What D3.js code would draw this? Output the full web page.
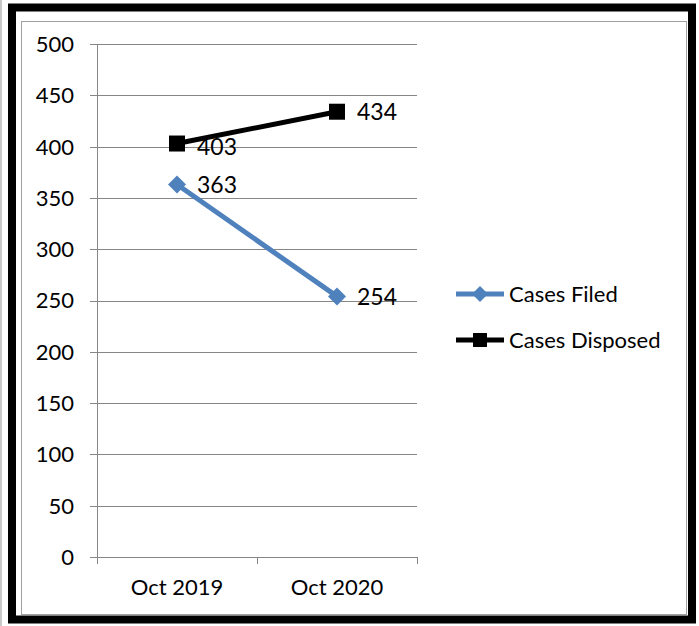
<!DOCTYPE html>
<html><head><meta charset="utf-8">
<script src="https://cdn.jsdelivr.net/npm/d3@7"></script>
<style>body{margin:0;background:#fff}svg{display:block}</style>
</head><body>
<script>
const categories = ["Oct 2019", "Oct 2020"];
const casesFiled = [363, 254];
const casesDisposed = [403, 434];
const yTicks = [0, 50, 100, 150, 200, 250, 300, 350, 400, 450, 500];
const seriesNames = ["Cases Filed", "Cases Disposed"];

const W = 699, H = 626;
const font = "Lato, 'Open Sans', sans-serif";
const svg = d3.select("body").append("svg").attr("width", W).attr("height", H);

// frames
svg.append("line").attr("x1", 1).attr("x2", 1).attr("y1", 0).attr("y2", H).attr("stroke", "#c8c8c8").attr("stroke-width", 2);
svg.append("rect").attr("x", 12).attr("y", 7.5).attr("width", 680).attr("height", 612)
  .attr("fill", "none").attr("stroke", "#000").attr("stroke-width", 8);
svg.append("rect").attr("x", 21.5).attr("y", 21.5).attr("width", 665).attr("height", 593)
  .attr("fill", "none").attr("stroke", "#a0a0a0").attr("stroke-width", 1);

const x0 = 97, x1 = 417, yTop = 44, yBot = 557;
const x = d3.scaleBand().domain(categories).range([x0, x1]);
const y = d3.scaleLinear().domain([0, 500]).range([yBot, yTop]);

const g = svg.append("g");
g.selectAll("line.grid").data(yTicks).join("line")
  .attr("x1", x0 - 7).attr("x2", x1)
  .attr("y1", d => Math.round(y(d)) + 0.5).attr("y2", d => Math.round(y(d)) + 0.5)
  .attr("stroke", "#868686").attr("stroke-width", 1);
g.append("line").attr("x1", x0 + 0.5).attr("x2", x0 + 0.5).attr("y1", yTop).attr("y2", yBot)
  .attr("stroke", "#868686");
const xt = [x0, x0 + x.bandwidth(), x1];
g.selectAll("line.xt").data(xt).join("line")
  .attr("x1", d => d + 0.5).attr("x2", d => d + 0.5).attr("y1", yBot).attr("y2", yBot + 7)
  .attr("stroke", "#868686");
g.selectAll("text.yl").data(yTicks).join("text")
  .attr("x", 74).attr("y", d => y(d)).attr("dy", "0.36em")
  .attr("text-anchor", "end").attr("font-family", font).attr("font-size", 22)
  .attr("fill", "#000").text(d => d);
g.selectAll("text.xl").data(categories).join("text")
  .attr("x", d => x(d) + x.bandwidth() / 2).attr("y", 595)
  .attr("text-anchor", "middle").attr("font-family", font).attr("font-size", 22)
  .attr("fill", "#000").text(d => d);

const cx = d => x(d) + x.bandwidth() / 2;
const line = d3.line().x(d => cx(d.c)).y(d => y(d.v));
const blue = "#4f81bd";
const fData = categories.map((c, i) => ({c, v: casesFiled[i]}));
const dData = categories.map((c, i) => ({c, v: casesDisposed[i]}));

g.append("path").attr("d", line(dData)).attr("fill", "none").attr("stroke", "#000").attr("stroke-width", 5);
g.append("path").attr("d", line(fData)).attr("fill", "none").attr("stroke", blue).attr("stroke-width", 5);

const sq = 16, dm = 9;
g.selectAll("rect.m").data(dData).join("rect")
  .attr("x", d => cx(d.c) - sq / 2).attr("y", d => y(d.v) - sq / 2)
  .attr("width", sq).attr("height", sq).attr("fill", "#000");
g.selectAll("path.m").data(fData).join("path")
  .attr("d", d => { const X = cx(d.c), Y = y(d.v); return `M${X},${Y - dm}L${X + dm},${Y}L${X},${Y + dm}L${X - dm},${Y}Z`; })
  .attr("fill", blue);

const lbl = (data) => g.selectAll(null).data(data).join("text")
  .attr("x", d => cx(d.c) + 20).attr("y", d => y(d.v)).attr("dy", "0.36em")
  .attr("font-family", font).attr("font-size", 23).attr("fill", "#000").text(d => d.v);
lbl(dData).attr("y", (d, i) => y(d.v) + (i === 0 ? 3 : 0));
lbl(fData);

const lg = svg.append("g");
const legItems = [{name: seriesNames[0], color: blue, shape: "diamond", y: 294},
                  {name: seriesNames[1], color: "#000", shape: "square", y: 340}];
legItems.forEach(it => {
  lg.append("line").attr("x1", 456).attr("x2", 504).attr("y1", it.y).attr("y2", it.y)
    .attr("stroke", it.color).attr("stroke-width", 5);
  if (it.shape === "diamond") {
    lg.append("path").attr("d", `M480,${it.y - 8}L488,${it.y}L480,${it.y + 8}L472,${it.y}Z`).attr("fill", it.color);
  } else {
    lg.append("rect").attr("x", 473).attr("y", it.y - 7).attr("width", 14).attr("height", 14).attr("fill", it.color);
  }
  lg.append("text").attr("x", 509).attr("y", it.y).attr("dy", "0.36em")
    .attr("font-family", font).attr("font-size", 22).attr("fill", "#000").text(it.name);
});
</script>
</body></html>
